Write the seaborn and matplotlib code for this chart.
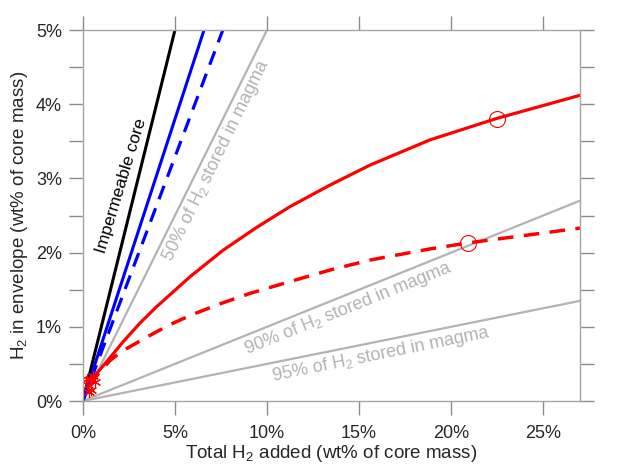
import matplotlib
matplotlib.use("Agg")
import matplotlib.pyplot as plt
import seaborn as sns

# -----------------------------
# DATA
# -----------------------------
impermeable_x = [0, 5]
impermeable_y = [0, 5]

blue_solid_x = [0, 6.58]
blue_solid_y = [0, 5]
blue_dash_x = [0, 7.6]
blue_dash_y = [0, 5]

gray50_x = [0, 10]
gray50_y = [0, 5]
gray90_x = [0, 27]
gray90_y = [0, 2.7]
gray95_x = [0, 27]
gray95_y = [0, 1.35]

red_solid_x = [0.5, 1.29, 2.19, 3.1, 4.0, 5.82, 7.63, 9.44, 11.25, 13.42, 15.6, 18.86, 22.5, 27]
red_solid_y = [0.30, 0.53, 0.80, 1.05, 1.27, 1.675, 2.035, 2.34, 2.62, 2.91, 3.18, 3.52, 3.81, 4.12]

red_dash_x = [0.4, 0.72, 1.45, 2.05, 3.46, 4.73, 5.99, 7.45, 9.07, 11.25, 13.42, 15.6, 18.86, 20.9, 27]
red_dash_y = [0.2, 0.33, 0.54, 0.66, 0.86, 1.03, 1.17, 1.31, 1.45, 1.61, 1.765, 1.90, 2.05, 2.13, 2.33]

circle_x = [22.5, 20.9]
circle_y = [3.80, 2.13]

star_x = [0.3, 0.4, 0.55, 0.45, 0.65, 0.35, 0.25]
star_y = [0.22, 0.30, 0.34, 0.15, 0.26, 0.12, 0.30]

x_ticks = [0, 5, 10, 15, 20, 25]
y_ticks = [0, 0.5, 1, 1.5, 2, 2.5, 3, 3.5, 4, 4.5, 5]

# -----------------------------
# STYLE
# -----------------------------
sns.set_theme(style="white")
plt.rcParams["font.family"] = ["Liberation Sans", "DejaVu Sans"]
plt.rcParams["mathtext.default"] = "regular"

fig = plt.figure(figsize=(6.28, 4.74), dpi=100)
ax = fig.add_axes([0.132, 0.154, 0.7916, 0.7827])

GRAY = "#b3b3b3"

def line(x, y, color, lw, ls="-"):
    sns.lineplot(x=x, y=y, ax=ax, color=color, linewidth=lw, linestyle=ls,
                 sort=False, estimator=None)

line(gray50_x, gray50_y, GRAY, 1.6)
line(gray90_x, gray90_y, GRAY, 1.6)
line(gray95_x, gray95_y, GRAY, 1.6)
line(impermeable_x, impermeable_y, "black", 2.2)
line(blue_solid_x, blue_solid_y, "blue", 2.2)
line(blue_dash_x, blue_dash_y, "blue", 2.3, (0, (4.5, 3)))
line(red_solid_x, red_solid_y, "red", 2.3)
line(red_dash_x, red_dash_y, "red", 2.5, (0, (4.5, 3)))

ax.plot(circle_x, circle_y, linestyle="none", marker="o", markersize=11.5,
        markerfacecolor="none", markeredgecolor="red", markeredgewidth=0.8)
ax.plot(star_x, star_y, linestyle="none", marker=(6, 2, 0), markersize=8,
        color="red", markeredgewidth=0.8)

# annotations
ax.text(2.07, 2.90, "Impermeable core", rotation=73, color="black",
        fontsize=12.5, ha="center", va="center", rotation_mode="anchor")
ax.text(7.23, 3.25, "50% of H$_2$ stored in magma", rotation=64, color=GRAY,
        fontsize=13, ha="center", va="center", rotation_mode="anchor")
ax.text(14.4, 1.25, "90% of H$_2$ stored in magma", rotation=22, color=GRAY,
        fontsize=13, ha="center", va="center", rotation_mode="anchor")
ax.text(16.2, 0.62, "95% of H$_2$ stored in magma", rotation=11.5, color=GRAY,
        fontsize=13, ha="center", va="center", rotation_mode="anchor")

# -----------------------------
# AXES
# -----------------------------
ax.set_xlim(0, 27)
ax.set_ylim(0, 5)
ax.set_xticks(x_ticks)
ax.set_xticklabels([f"{t}%" for t in x_ticks])
ax.set_yticks(y_ticks)
ax.set_yticklabels([f"{t:g}%" if t == int(t) else "" for t in y_ticks])

for s in ax.spines.values():
    s.set_visible(True)
    s.set_color("#a6a6a6")
    s.set_linewidth(1.0)

ax.tick_params(axis="both", which="both", direction="out", length=10,
               width=1.0, color="#8c8c8c", labelsize=13, labelcolor="#262626",
               top=True, right=True, bottom=True, left=True,
               labeltop=False, labelright=False)
ax.tick_params(axis="x", pad=7)
ax.tick_params(axis="y", pad=5)

ax.set_xlabel("Total H$_2$ added (wt% of core mass)", fontsize=13.5,
              color="#262626", labelpad=1)
ax.set_ylabel("H$_2$ in envelope (wt% of core mass)", fontsize=13.5,
              color="#262626", labelpad=4)

fig.savefig("out.png", dpi=100)
